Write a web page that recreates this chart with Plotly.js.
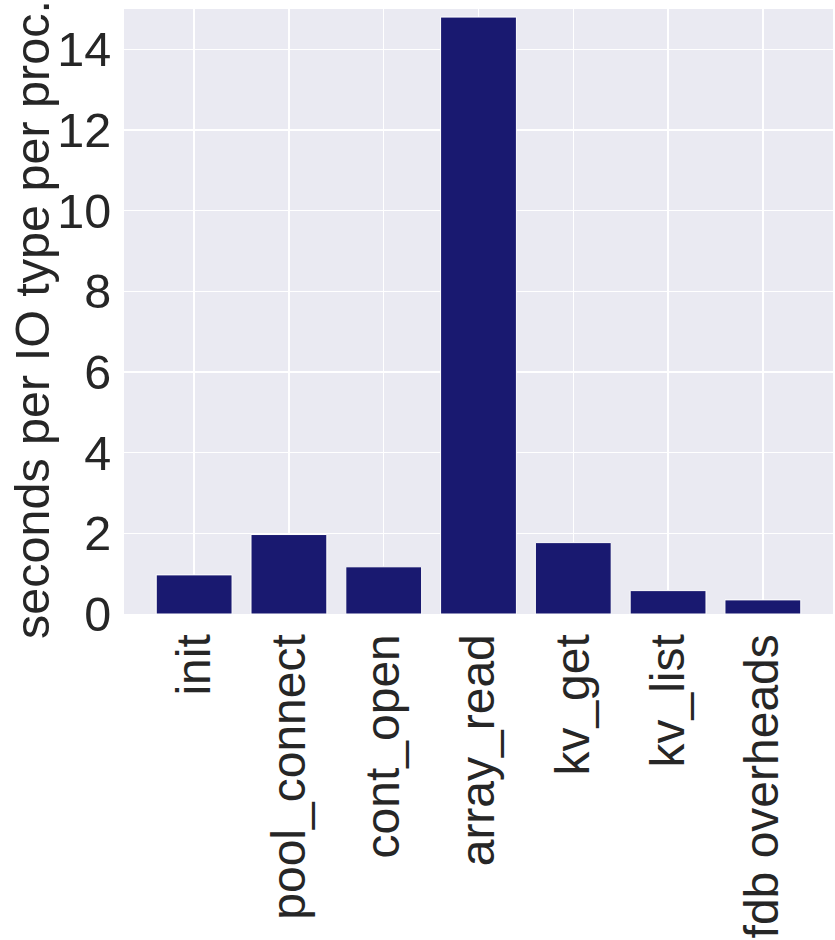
<!DOCTYPE html>
<html>
<head>
<meta charset="utf-8">
<script src="https://cdn.plot.ly/plotly-3.0.1.min.js"></script>
<style>html,body{margin:0;padding:0;background:#fff;}#chart{width:835px;height:940px;}</style>
</head>
<body>
<div id="chart"></div>
<script>
const categories = ["init", "pool_connect", "cont_open", "array_read", "kv_get", "kv_list", "fdb overheads"];
const seconds = [0.97, 1.97, 1.17, 14.8, 1.77, 0.58, 0.35];
const yTicks = [0, 2, 4, 6, 8, 10, 12, 14];
const yTitle = "seconds per IO type per proc.";

const textColor = "#262626";
const fontFamily = "Liberation Sans, Arial, sans-serif";
const fs = 48.5;

const trace = {
  type: "bar",
  x: categories.map((c, i) => i),
  y: seconds,
  width: 0.8,
  marker: { color: "#191970", line: { color: "#ffffff", width: 1 } },
  hoverinfo: "skip"
};

const layout = {
  width: 835,
  height: 940,
  paper_bgcolor: "#ffffff",
  plot_bgcolor: "#EAEAF2",
  showlegend: false,
  margin: { l: 124, r: 2, t: 9, b: 326, pad: 0 },
  font: { family: fontFamily, color: textColor, size: fs },
  xaxis: {
    range: [-0.74, 6.74],
    tickmode: "array",
    tickvals: categories.map((c, i) => i),
    ticktext: categories,
    tickangle: -90,
    showgrid: true,
    gridcolor: "#ffffff",
    gridwidth: 1.5,
    zeroline: false,
    showline: false,
    ticks: "outside",
    ticklen: 0,
    tickcolor: "rgba(0,0,0,0)",
    tickfont: { size: 48, color: textColor, family: fontFamily },
    automargin: false,
    fixedrange: true
  },
  yaxis: {
    range: [0, 15],
    tickmode: "array",
    tickvals: yTicks,
    ticktext: yTicks.map(String),
    showgrid: true,
    gridcolor: "#ffffff",
    gridwidth: 1.5,
    zeroline: false,
    showline: false,
    ticks: "outside",
    ticklen: 2,
    tickcolor: "rgba(0,0,0,0)",
    tickfont: { size: fs, color: textColor, family: fontFamily },
    automargin: false,
    fixedrange: true
  },
  annotations: [{
    text: yTitle,
    xref: "paper", yref: "paper",
    x: (32 - 124) / 709, y: (614 - 320) / 605,
    xanchor: "center", yanchor: "middle",
    textangle: -90,
    showarrow: false,
    font: { size: fs, color: textColor, family: fontFamily }
  }]
};

Plotly.newPlot("chart", [trace], layout, { displayModeBar: false, staticPlot: true });
</script>
</body>
</html>
